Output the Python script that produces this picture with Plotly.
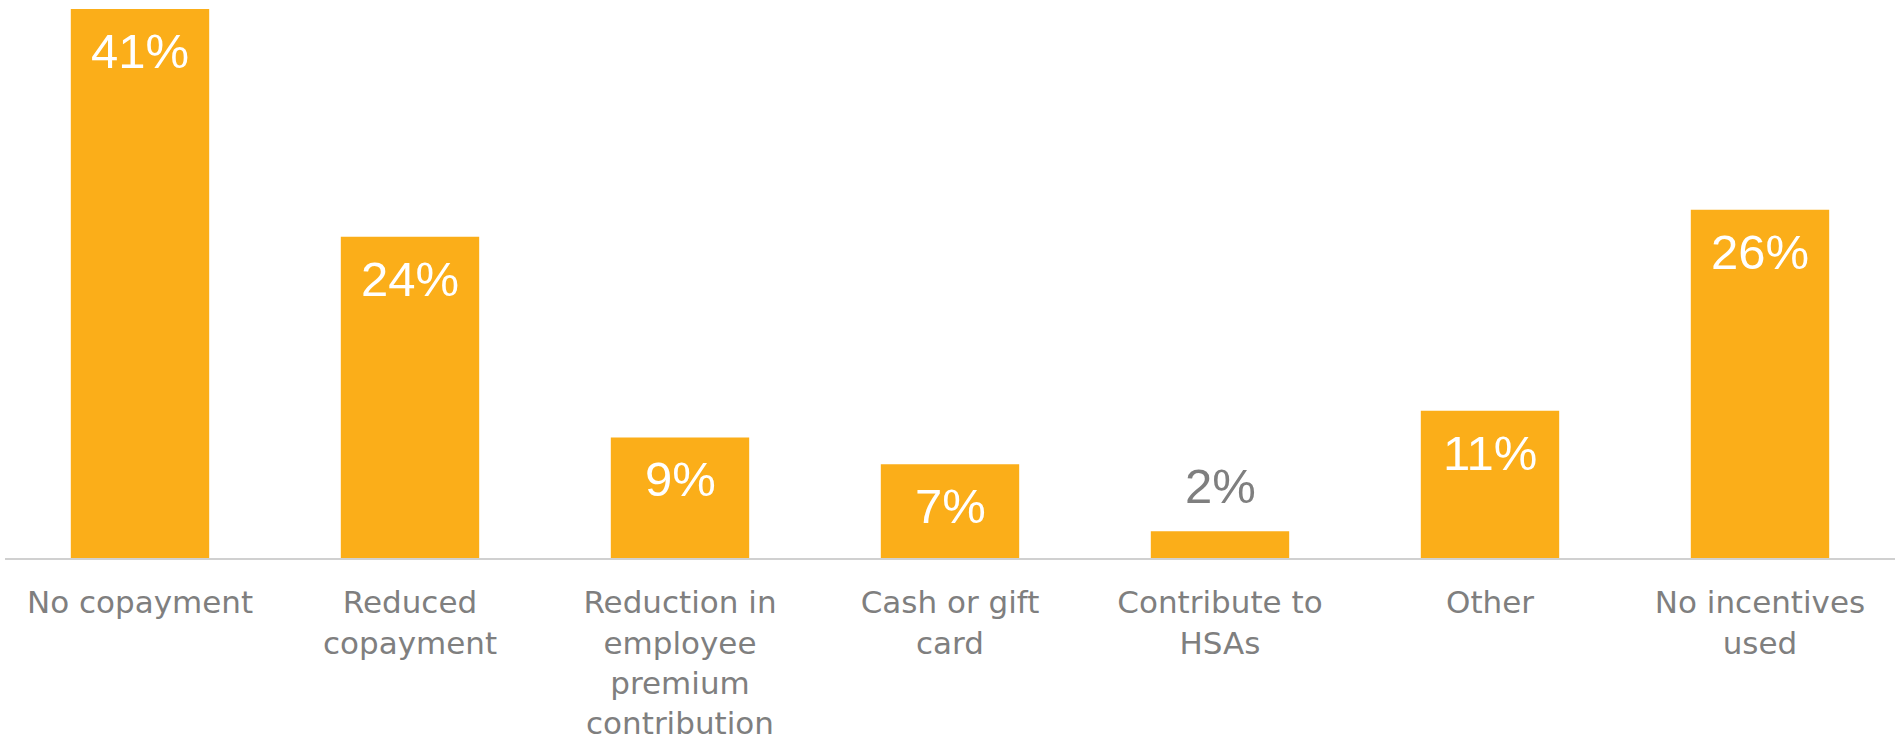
import plotly.graph_objects as go

categories = [
    "No copayment",
    "Reduced<br>copayment",
    "Reduction in<br>employee<br>premium<br>contribution",
    "Cash or gift<br>card",
    "Contribute to<br>HSAs",
    "Other",
    "No incentives<br>used",
]
values = [41, 24, 9, 7, 2, 11, 26]
value_labels = ["41%", "24%", "9%", "7%", "2%", "11%", "26%"]

BAR_COLOR = "#FBAE19"
TEXT_GRAY = "#7F7F7F"

fig = go.Figure()
fig.add_trace(go.Bar(
    x=categories,
    y=values,
    marker=dict(color=BAR_COLOR, line=dict(width=0)),
    hoverinfo="skip",
))

annotations = []
for cat, v, lab in zip(categories, values, value_labels):
    inside = v >= 5
    annotations.append(dict(
        x=cat, y=v, xref="x", yref="y",
        text=lab, showarrow=False,
        yanchor="top" if inside else "bottom",
        yshift=-13 if inside else 16,
        font=dict(family="Liberation Sans, Arial, sans-serif", size=49,
                  color="#FFFFFF" if inside else TEXT_GRAY),
    ))

fig.update_layout(
    width=1901, height=748,
    margin=dict(l=5, r=6, t=9, b=190, autoexpand=False),
    paper_bgcolor="white", plot_bgcolor="white",
    showlegend=False,
    bargap=0.4875,
    annotations=annotations,
    xaxis=dict(
        showline=True, linecolor="#D0D0D0", linewidth=2,
        showgrid=False, zeroline=False, ticks="",
        tickangle=0, automargin=False,
        tickfont=dict(family="DejaVu Sans, sans-serif", size=31, color=TEXT_GRAY),
        ticklabelstandoff=16,
    ),
    yaxis=dict(visible=False, range=[0, 41], showgrid=False, zeroline=False),
)

fig.write_html("out.html")
